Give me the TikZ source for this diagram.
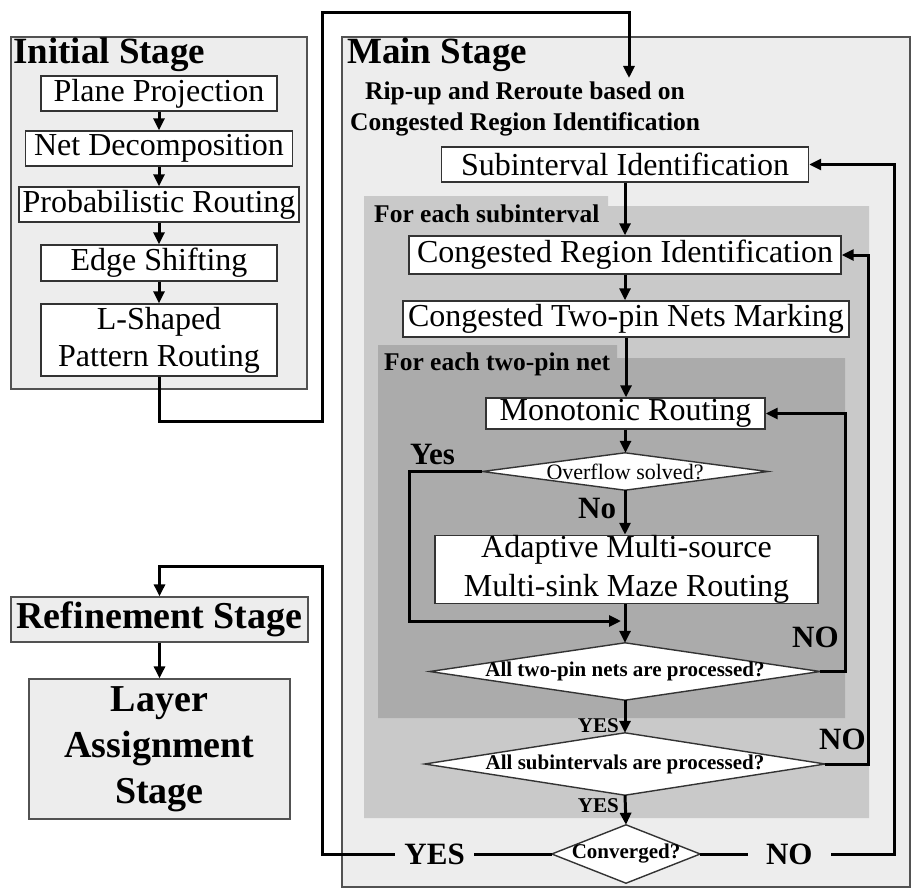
\documentclass[tikz,border=0pt]{standalone}
\usepackage{fontspec}
\setmainfont{Liberation Serif}
\usetikzlibrary{arrows.meta}

\definecolor{stagebg}{HTML}{EDEDED}
\definecolor{loopbg}{HTML}{C9C9C9}
\definecolor{netbg}{HTML}{ABABAB}
\definecolor{edge}{HTML}{333333}

\pgfdeclarelayer{regions}
\pgfdeclarelayer{shapes}
\pgfsetlayers{regions,shapes,main}

\tikzset{
  stepbox/.style={draw=edge, line width=1.4pt, fill=white, inner sep=0pt, align=center,
                  font=\fontsize{32}{38}\selectfont},
  stagebox/.style={draw=edge!85, line width=1.3pt, fill=stagebg, inner sep=0pt, align=center,
                   font=\bfseries\fontsize{38}{46}\selectfont},
  stageframe/.style={draw=edge!85, line width=1.2pt, fill=stagebg, inner sep=0pt},
  decision/.style={inner sep=0pt, font=\bfseries\fontsize{21}{25}\selectfont},
  diamondline/.style={draw=edge, line width=1.4pt, fill=white},
  flow/.style={line width=3pt, -{Triangle[length=12pt,width=11pt]}},
  title/.style={font=\bfseries\fontsize{37}{44}\selectfont, inner sep=0pt, anchor=base west},
  caption/.style={font=\bfseries\fontsize{25.5}{30}\selectfont, inner sep=0pt, anchor=base west},
  answer/.style={font=\bfseries\fontsize{31}{36}\selectfont, inner sep=0pt},
  smallanswer/.style={font=\bfseries\fontsize{21}{25}\selectfont, inner sep=0pt, anchor=base east},
}

\begin{document}
\begin{tikzpicture}[x=1pt,y=-1pt]
\useasboundingbox (0,0) rectangle (912,888);

% ---------- stage frames and loop regions ----------
\begin{pgfonlayer}{regions}
  \node[stageframe, minimum width=296, minimum height=352] (initial) at (159,213) {};
  \node[stageframe, minimum width=568, minimum height=850] (main) at (626,462) {};
  \fill[loopbg] (364,196) -- (608,196) -- (608,206) -- (869,206) -- (869,818) -- (364,818) -- cycle;
  \fill[netbg]  (378,345) -- (617,345) -- (617,358) -- (845,358) -- (845,718) -- (378,718) -- cycle;
\end{pgfonlayer}

% ---------- titles and captions ----------
\node[title] (tinit) at (13,64) {Initial Stage};
\node[title] (tmain) at (347,64) {Main Stage};
\node[caption] (rip1) at (365,100) {Rip-up and Reroute based on};
\node[caption] (rip2) at (350,131) {Congested Region Identification};
\node[caption] (csub) at (374,222) {For each subinterval};
\node[caption] (cnet) at (384,370) {For each two-pin net};

% ---------- initial stage ----------
\node[stepbox, minimum width=236, minimum height=35] (pp) at (159,93.5) {Plane Projection};
\node[stepbox, minimum width=267, minimum height=35] (nd) at (159,148.5) {Net Decomposition};
\node[stepbox, minimum width=280, minimum height=35] (pr) at (159,204.5) {Probabilistic Routing};
\node[stepbox, minimum width=236, minimum height=36] (es) at (159,263) {Edge Shifting};
\node[stepbox, minimum width=236, minimum height=72, font=\fontsize{32}{37}\selectfont]
     (ls) at (159,340) {L-Shaped\\Pattern Routing};

% ---------- refinement and layer assignment ----------
\node[stagebox, minimum width=297, minimum height=45] (rs) at (159.5,619.5) {Refinement Stage};
\node[stagebox, minimum width=261, minimum height=140] (la) at (159.5,749) {Layer\\Assignment\\Stage};

% ---------- main stage ----------
\node[stepbox, minimum width=367, minimum height=35] (si) at (625,164.5) {Subinterval Identification};
\node[stepbox, minimum width=432, minimum height=38] (cr) at (625,255) {Congested Region Identification};
\node[stepbox, minimum width=446, minimum height=36] (ct) at (626,319) {Congested Two-pin Nets Marking};
\node[stepbox, minimum width=279, minimum height=31] (mr) at (625.5,413.5) {Monotonic Routing};
\node[stepbox, minimum width=383, minimum height=67, font=\fontsize{32}{39}\selectfont]
     (am) at (626.5,569.5) {Adaptive Multi-source\\Multi-sink Maze Routing};

\node[decision, minimum width=285, minimum height=37, font=\fontsize{22}{26}\selectfont]
     (d1) at (625,471.5) {Overflow solved?};
\node[decision, minimum width=390, minimum height=57] (d2) at (625,671.5) {All two-pin nets are processed?};
\node[decision, minimum width=400, minimum height=62] (d3) at (625,764) {All subintervals are processed?};
\node[decision, minimum width=148, minimum height=58] (d4) at (626,854) {Converged?};

\begin{pgfonlayer}{shapes}
  \foreach \d in {d1,d2,d3,d4}
    \draw[diamondline] (\d.west) -- (\d.north) -- (\d.east) -- (\d.south) -- cycle;
\end{pgfonlayer}

% ---------- rails and bends of the connectors ----------
\coordinate (railL) at (322,0);
\coordinate (railA) at (845,0);
\coordinate (railB) at (868,0);
\coordinate (railC) at (894,0);
\coordinate (bendlow) at (322,421);
\coordinate (bendtop) at (322,13);
\coordinate (ripin) at (629,78);
\coordinate (refjoin) at (322,566);
\coordinate (yesjoin) at (621,621);

% ---------- initial stage flow ----------
\draw[flow] (pp.south) -- (pp.south |- nd.north);
\draw[flow] (nd.south) -- (nd.south |- pr.north);
\draw[flow] (pr.south) -- (pr.south |- es.north);
\draw[flow] (es.south) -- (es.south |- ls.north);
\draw[flow] (ls.south) |- (bendlow) -- (bendtop) -| (ripin);

% ---------- main stage flow ----------
\draw[flow] (si.south) -- (si.south |- cr.north);
\draw[flow] (cr.south) -- (cr.south |- ct.north);
\draw[flow] (ct.south) -- (ct.south |- mr.north);
\draw[flow] (mr.south) -- (mr.south |- d1.north);
\draw[flow] (d1.south) -- (d1.south |- am.north);
\draw[flow] (am.south -| d2.north) -- (d2.north);
\draw[flow] (d1.west) -- ++(-73,0) |- (yesjoin);
\draw[flow] (d2.east) -- (d2.east -| railA) |- (mr.east);
\draw[flow] (d2.south) -- (d3.north);
\draw[flow] (d3.east) -- (d3.east -| railB) |- (cr.east);
\draw[flow] (d3.south) -- (d4.north);
\draw[flow] (d4.east) -- node[answer, fill=stagebg, inner xsep=18pt, inner ysep=2pt, pos=0.46] (lno) {NO}
            (d4.east -| railC) |- (si.east);
\draw[flow] (d4.west) -- node[answer, fill=stagebg, inner xsep=9pt, inner ysep=2pt, pos=0.51] (lyes) {YES}
            (d4.west -| railL) -- (refjoin) -| (rs.north);
\draw[flow] (rs.south) -- (rs.south |- la.north);

% ---------- branch labels ----------
\node[answer, anchor=base west] (ayes) at (410,464) {Yes};
\node[answer, anchor=base west] (ano) at (578,518) {No};
\node[answer, anchor=base west] (ano2) at (792,647) {NO};
\node[smallanswer] (ayes2) at (619,732) {YES};
\node[answer, anchor=base west] (ano3) at (819,749) {NO};
\node[smallanswer] (ayes3) at (619,812) {YES};

\end{tikzpicture}
\end{document}
